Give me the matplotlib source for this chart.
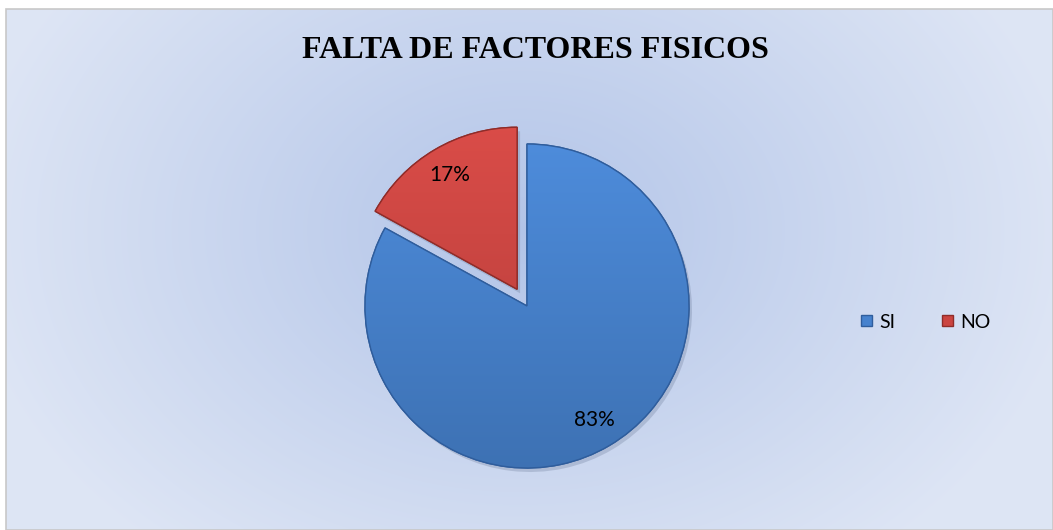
import numpy as np
import matplotlib
matplotlib.use("Agg")
import matplotlib.pyplot as plt
from matplotlib.patches import Rectangle, Wedge
from matplotlib.colors import to_rgb

# ---------------------------------------------------------------------------
# Data
# ---------------------------------------------------------------------------
categories = ["SI", "NO"]
percentages = [83, 17]
colors = ["#4682ce", "#cb4440"]
edge_colors = ["#2f5d9c", "#8f2c29"]
title = "FALTA DE FACTORES FISICOS"

W, H = 1053, 530
fig = plt.figure(figsize=(W / 100, H / 100), dpi=100)

# ---------------------------------------------------------------------------
# Background gradient (light blue, darker towards the centre)
# ---------------------------------------------------------------------------
bg = fig.add_axes([0, 0, 1, 1])
bg.set_axis_off()
yy, xx = np.mgrid[0:H, 0:W]
d = np.sqrt(((xx - 520) / 560.0) ** 2 + ((yy - 230) / 420.0) ** 2)
d = np.clip(d, 0, 1)
c_in = np.array([0.70, 0.77, 0.91])
c_out = np.array([0.87, 0.90, 0.96])
img = c_in[None, None, :] * (1 - d[..., None]) + c_out[None, None, :] * d[..., None]
img[:9, :, :] = 1.0
img[:, :6, :] = 1.0
bg.imshow(img, extent=[0, W, H, 0], aspect="auto")
bg.add_patch(Rectangle((6, 9), W - 6, H - 9, fill=False, edgecolor="#c8c8c8", lw=1.2))
bg.set_xlim(0, W)
bg.set_ylim(H, 0)

# ---------------------------------------------------------------------------
# Pie, in pixel coordinates
# ---------------------------------------------------------------------------
ax = fig.add_axes([0, 0, 1, 1])
radius = 162
cx, cy = 527, H - 306

# soft shadow
sh, _ = ax.pie(percentages, startangle=90, counterclock=False,
               explode=[0, 0.12 * radius], radius=radius, center=(cx + 3, cy - 4),
               colors=["#5a6a88", "#5a6a88"], wedgeprops=dict(linewidth=0, alpha=0.25),
               frame=True)

wedges, texts, autotexts = ax.pie(
    percentages, colors=colors, startangle=90, counterclock=False,
    explode=[0, 0.12 * radius], radius=radius, center=(cx, cy),
    autopct="%d%%", pctdistance=0.82,
    wedgeprops=dict(linewidth=1.0), textprops=dict(fontsize=15, family="Lato"),
    frame=True,
)
ax.set_axis_off()

# vertical shading on each slice, clipped to the wedge
for w, col, ec in zip(wedges, colors, edge_colors):
    w.set_edgecolor(ec)
    base = np.array(to_rgb(col))
    t = np.linspace(0, 1, 256)[:, None]
    top = np.clip(base * 1.06 + 0.02, 0, 1)
    bot = base * 0.85
    grad = top[None, :] * (1 - t[..., None]) + bot[None, :] * t[..., None]
    grad = np.repeat(grad, 2, axis=1)
    im = ax.imshow(grad, extent=[cx - 200, cx + 200, cy - 200, cy + 200],
                   origin="upper", aspect="auto", zorder=w.get_zorder() + 0.1)
    im.set_clip_path(w)
    edge = Wedge(w.center, w.r, w.theta1, w.theta2, facecolor="none",
                 edgecolor=ec, lw=1.0, zorder=w.get_zorder() + 0.2)
    ax.add_patch(edge)
for t in autotexts:
    t.set_zorder(5)
ax.set_xlim(0, W)
ax.set_ylim(0, H)

ax.legend(wedges, categories, loc="center left", bbox_to_anchor=(861 / W, 1 - 322 / H),
          ncol=2, frameon=False, prop=dict(family="Lato", size=14),
          borderpad=0, borderaxespad=0,
          handlelength=0.55, handleheight=0.55, handletextpad=0.4, columnspacing=2.4)

fig.text(535 / W, 1 - 50 / H, title, ha="center", va="center",
         fontsize=23, fontweight="bold", family="Liberation Serif")

fig.savefig("out.png", dpi=100)
